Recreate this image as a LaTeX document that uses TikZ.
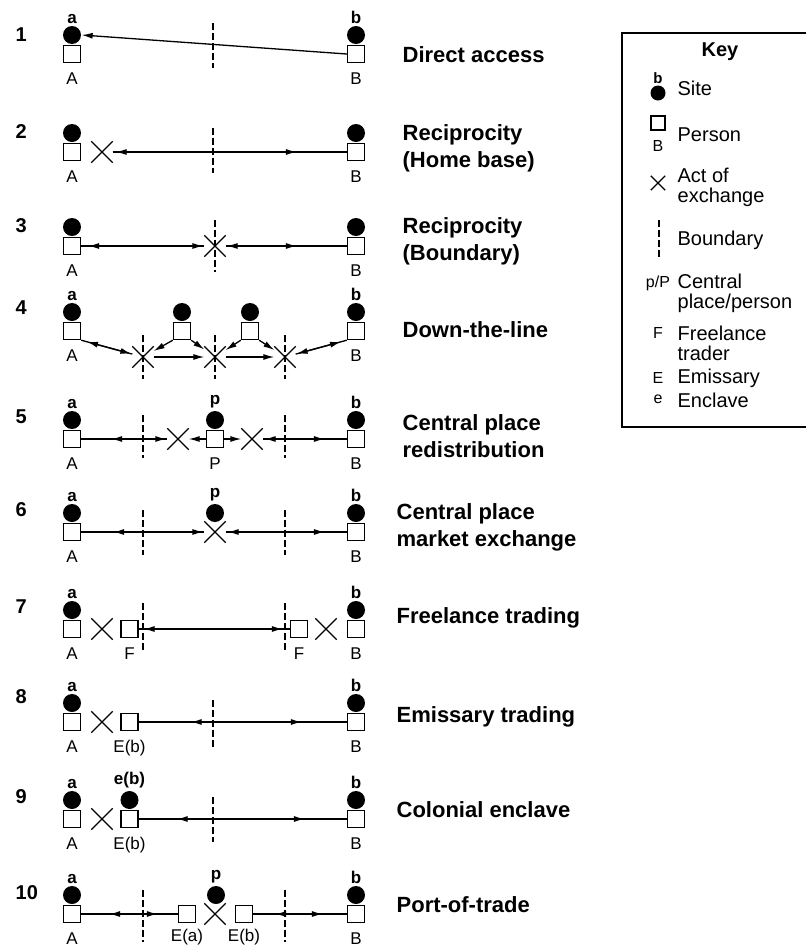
\documentclass[tikz,border=0pt]{standalone}
\usepackage{fontspec}
\setmainfont{Liberation Sans}
\usetikzlibrary{arrows.meta,shapes.misc,positioning}

\begin{document}
\begin{tikzpicture}[x=1pt,y=-1pt, >={Latex[length=11pt,width=6pt]}, line width=1.3pt]
    % Define styles for sites, persons, exchanges and boundaries
    \tikzstyle{site} = [circle, fill=black, minimum size=18pt, inner sep=0pt]
    \tikzstyle{person} = [rectangle, draw=black, fill=white, minimum size=17pt, inner sep=0pt, line width=1.4pt]
    \tikzstyle{xmark} = [cross out, draw=black, minimum size=20pt, inner sep=0pt, line width=1.3pt]
    \tikzstyle{boundary} = [dash pattern=on 7pt off 3pt, line width=1.3pt]
    \tikzstyle{lbl} = [font=\fontsize{17}{17}\selectfont, inner sep=0pt]
    \tikzstyle{lblb} = [font=\fontsize{17}{17}\selectfont\bfseries, inner sep=0pt]
    \tikzstyle{num} = [font=\fontsize{20}{20}\selectfont\bfseries, anchor=west, inner sep=0pt]
    \tikzstyle{title} = [font=\fontsize{22}{27}\selectfont\bfseries, anchor=west, align=left, inner sep=0pt]
    \tikzstyle{keytext} = [font=\fontsize{20}{20}\selectfont, anchor=west, align=left, inner sep=0pt]
    \tikzstyle{keysym} = [font=\fontsize{16}{16}\selectfont, inner sep=0pt]
    % line with a tip near each end, set in from the ends
    \tikzset{two way/.style 2 args={postaction={draw, <->, shorten <=#1, shorten >=#2}}}

    \useasboundingbox (0,0) rectangle (806,946);

    % Home sites and persons A and B in every row
    \foreach \r/\y in {1/35,2/133,3/227,4/312,5/420,6/513,7/610,8/703,9/800,10/895} {
        \node[site] (siteA\r) at (72,\y) {};
        \node[person] (personA\r) at (72,{\y+19}) {};
        \node[site] (siteB\r) at (356,\y) {};
        \node[person] (personB\r) at (356,{\y+19}) {};
        \node[lbl, below=8.5pt of personA\r] (labA\r) {A};
        \node[lbl, below=8.5pt of personB\r] (labB\r) {B};
    }
    \foreach \r in {1,4,5,6,7,8,9,10} {
        \node[lblb, above=1.5pt of siteA\r] (laba\r) {a};
        \node[lblb, above=1.5pt of siteB\r] (labb\r) {b};
    }

    % Row numbers
    \foreach \r/\y in {1/35,2/132,3/226,4/308,5/417,6/510,7/607,8/697,9/797,10/893} {
        \node[num] (num\r) at (15,\y) {\r};
    }

    % Titles
    \node[title] (title1) at (402,55) {Direct access};
    \node[title] (title2) at (402,148) {Reciprocity\\(Home base)};
    \node[title] (title3) at (402,241) {Reciprocity\\(Boundary)};
    \node[title] (title4) at (402,330) {Down-the-line};
    \node[title] (title5) at (402,436) {Central place\\redistribution};
    \node[title] (title6) at (396,527) {Central place\\market exchange};
    \node[title] (title7) at (396,618) {Freelance trading};
    \node[title] (title8) at (396,717) {Emissary trading};
    \node[title] (title9) at (396,810) {Colonial enclave};
    \node[title] (title10) at (396,905) {Port-of-trade};

    % 1 Direct access
    \draw[boundary] (213,23) -- (213,68);
    \draw[->] (personB1.west) -- (siteA1.east);

    % 2 Reciprocity (home base)
    \node[xmark] (x2) at (102,152) {};
    \draw[boundary] (213,128) -- (213,173);
    \draw[two way={3pt}{50pt}] (x2) -- (personB2);

    % 3 Reciprocity (boundary)
    \node[xmark] (x3) at (215,246) {};
    \draw[boundary] (215,220) -- (215,272);
    \draw[two way={7pt}{1pt}] (personA3) -- (x3);
    \draw[two way={1pt}{50pt}] (x3) -- (personB3);

    % 4 Down-the-line
    \foreach \i/\x in {1/143,2/215,3/285} {
        \node[xmark] (x4\i) at (\x,357) {};
        \draw[boundary] (\x,335) -- (\x,379);
    }
    \foreach \i/\x in {1/182,2/250} {
        \node[site] (siteM\i) at (\x,312) {};
        \node[person] (personM\i) at (\x,331) {};
    }
    \draw[two way={6pt}{1pt}] (personA4.south east) -- (x41);
    \draw[->] (personM1.south west) -- (x41);
    \draw[->] (personM1.south east) -- (x42);
    \draw[->] (x41) -- (x42);
    \draw[->] (personM2.south west) -- (x42);
    \draw[->] (personM2.south east) -- (x43);
    \draw[->] (x42) -- (x43);
    \draw[two way={6pt}{1pt}] (personB4.south west) -- (x43);

    % 5 Central place redistribution
    \node[site] (siteP5) at (215,420) {};
    \node[person] (personP5) at (215,439) {};
    \node[lblb, above=1.5pt of siteP5] (labp5) {p};
    \node[lbl, below=8.5pt of personP5] (labP5) {P};
    \node[xmark] (x51) at (178,439) {};
    \node[xmark] (x52) at (252,439) {};
    \draw[boundary] (143,415) -- (143,458);
    \draw[boundary] (285,415) -- (285,458);
    \draw[two way={30pt}{1pt}] (personA5) -- (x51);
    \draw[->] (personP5) -- (x51);
    \draw[->] (personP5) -- (x52);
    \draw[two way={2pt}{22pt}] (x52) -- (personB5);

    % 6 Central place market exchange
    \node[site] (siteP6) at (215,513) {};
    \node[lblb, above=1.5pt of siteP6] (labp6) {p};
    \node[xmark] (x6) at (215,532) {};
    \draw[boundary] (143,510) -- (143,555);
    \draw[boundary] (285,510) -- (285,555);
    \draw[two way={32pt}{1pt}] (personA6) -- (x6);
    \draw[two way={2pt}{22pt}] (x6) -- (personB6);

    % 7 Freelance trading
    \node[xmark] (x71) at (102,629) {};
    \node[person] (personF1) at (129.5,629) {};
    \node[person] (personF2) at (299,629) {};
    \node[xmark] (x72) at (326,629) {};
    \node[lbl, below=8.5pt of personF1] (labF1) {F};
    \node[lbl, below=8.5pt of personF2] (labF2) {F};
    \draw[boundary] (143,603) -- (143,652);
    \draw[boundary] (285,603) -- (285,652);
    \draw[two way={5pt}{7pt}] (personF1) -- (personF2);

    % 8 Emissary trading
    \node[xmark] (x8) at (102,722) {};
    \node[person] (personE8) at (129.5,722) {};
    \node[lbl, below=8.5pt of personE8] (labE8) {E(b)};
    \draw[boundary] (213,700) -- (213,747);
    \draw[two way={52pt}{45pt}] (personE8) -- (personB8);

    % 9 Colonial enclave
    \node[xmark] (x9) at (102,819) {};
    \node[site] (siteE9) at (129.5,800) {};
    \node[person] (personE9) at (129.5,819) {};
    \node[lblb, above=1.5pt of siteE9] (labe9) {e(b)};
    \node[lbl, below=8.5pt of personE9] (labE9) {E(b)};
    \draw[boundary] (213,797) -- (213,842);
    \draw[two way={38pt}{42pt}] (personE9) -- (personB9);

    % 10 Port-of-trade
    \node[person] (personEa10) at (187,914) {};
    \node[xmark] (x10) at (215,914) {};
    \node[site] (siteP10) at (216,895) {};
    \node[person] (personEb10) at (244,914) {};
    \node[lblb, above=1.5pt of siteP10] (labp10) {p};
    \node[lbl, below=5pt of personEa10] (labEa10) {E(a)};
    \node[lbl, below=5pt of personEb10] (labEb10) {E(b)};
    \draw[boundary] (143,890) -- (143,942);
    \draw[boundary] (285,890) -- (285,942);
    \draw[two way={28pt}{20pt}] (personA10) -- (personEa10);
    \draw[two way={22pt}{24pt}] (personEb10) -- (personB10);

    % Key
    \draw[line width=1.3pt] (622,33) rectangle (815,427);
    \node[font=\fontsize{20}{20}\selectfont\bfseries, inner sep=0pt] (keytitle) at (720,52) {Key};
    \node[site, minimum size=15pt] (keysite) at (658,93) {};
    \node[keysym, font=\fontsize{15}{15}\selectfont\bfseries] (keyb) at (658,78) {b};
    \node[keytext] (keysitetxt) at (677,88) {Site};
    \node[person, minimum size=14pt] (keyperson) at (658,123) {};
    \node[keysym] (keyB) at (658,146) {B};
    \node[keytext] (keypersontxt) at (677,135) {Person};
    \node[xmark, minimum size=13pt] (keyx) at (658,183) {};
    \node[keytext] (keyxtxt) at (677,187) {Act of\\exchange};
    \draw[boundary] (659,220) -- (659,258);
    \node[keytext] (keyboundtxt) at (677,240) {Boundary};
    \node[keysym] (keyp) at (658,283) {p/P};
    \node[keytext] (keyptxt) at (677,293) {Central\\place/person};
    \node[keysym] (keyF) at (658,333) {F};
    \node[keytext] (keyFtxt) at (677,343) {Freelance\\trader};
    \node[keysym] (keyE) at (658,378) {E};
    \node[keytext] (keyEtxt) at (677,378) {Emissary};
    \node[keysym] (keye) at (658,399) {e};
    \node[keytext] (keyetxt) at (677,400) {Enclave};
\end{tikzpicture}
\end{document}
